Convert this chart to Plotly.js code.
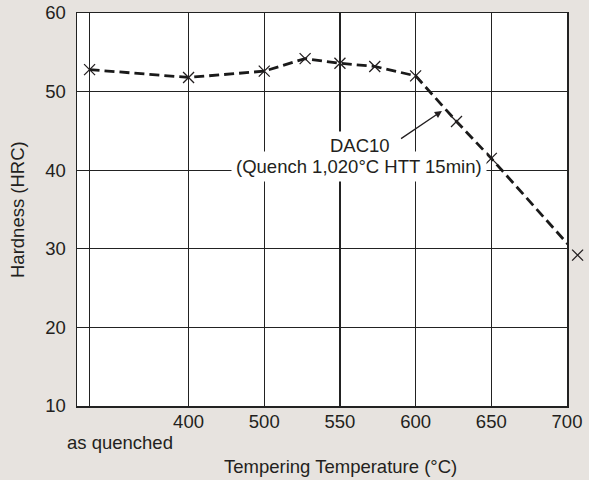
<!DOCTYPE html>
<html>
<head>
<meta charset="utf-8">
<script src="https://cdn.plot.ly/plotly-3.0.1.min.js"></script>
<style>
  html, body { margin: 0; padding: 0; background: #e7e3df; }
  #chart { width: 589px; height: 480px; }
</style>
</head>
<body>
<div id="chart"></div>
<script>
// ---- data ----
const temps = ['as quenched', 400, 500, 527, 550, 573, 600, 627, 650, 707];
const hardness = [52.8, 51.8, 52.6, 54.2, 53.6, 53.2, 52.0, 46.2, 41.5, 29.2];
const tickTemps = [400, 500, 550, 600, 650, 700];
const tickLabels = ['400', '500', '550', '600', '650', '700'];
const yTicks = [10, 20, 30, 40, 50, 60];
const seriesName = 'DAC10';
const seriesNote = '(Quench 1,020°C HTT 15min)';
const xLabelQuenched = 'as quenched';
const xTitle = 'Tempering Temperature (°C)';
const yTitle = 'Hardness (HRC)';

// broken temperature scale of the original: 400->500 takes the same width as 50 degC steps above 500
function axisPos(t) {
  if (t === 'as quenched') return -1.308;
  if (t <= 500) return (t - 400) / 100;
  return 1 + (t - 500) / 50;
}

const ink = '#231f20';
const font = { family: '"Liberation Sans", Arial, Helvetica, sans-serif', size: 18.5, color: ink };

const xMin = -1.474, xMax = 5.0;
const plotW = 510, mainW = 490;            // main frame is 490px, markers may overflow to the right
const xMax2 = xMin + (xMax - xMin) * plotW / mainW;

const xs = temps.map(axisPos);

const lineTrace = {
  x: xs, y: hardness,
  xaxis: 'x', yaxis: 'y',
  mode: 'lines', type: 'scatter',
  line: { color: '#1a1a1a', width: 2.8, dash: '10px,5px' },
  hoverinfo: 'skip', showlegend: false
};
const markerTrace = {
  x: xs, y: hardness,
  xaxis: 'x2', yaxis: 'y2',
  mode: 'markers', type: 'scatter',
  cliponaxis: false,
  marker: { symbol: 'x-thin-open', size: 11, color: ink, line: { color: ink, width: 1.3 } },
  hoverinfo: 'skip', showlegend: false
};

const gridTicks = [axisPos('as quenched')].concat(tickTemps.map(axisPos));
const gridText = [''].concat(tickLabels);
const px = p => (p - 77) / plotW;   // helper: page x -> paper fraction
const py = p => (406 - p) / 393;    // helper: page y -> paper fraction

const layout = {
  width: 589, height: 480,
  paper_bgcolor: '#e7e3df',
  plot_bgcolor: 'rgba(0,0,0,0)',
  margin: { l: 77, r: 589 - 77 - plotW, t: 13, b: 74, pad: 0 },
  font: font,
  showlegend: false,
  xaxis: {
    domain: [0, mainW / plotW],
    range: [xMin, xMax],
    tickmode: 'array',
    tickvals: gridTicks,
    ticktext: gridText,
    showgrid: true, gridcolor: '#222222', gridwidth: 1.3,
    zeroline: false,
    showline: true, mirror: true, linecolor: '#222222', linewidth: 1.5,
    ticks: '', ticklabelstandoff: -2,
    tickfont: font,
    fixedrange: true
  },
  yaxis: {
    range: [10, 60],
    tickmode: 'array',
    tickvals: yTicks,
    ticktext: yTicks.map(String),
    showgrid: true, gridcolor: '#222222', gridwidth: 1.3,
    zeroline: false,
    showline: true, mirror: true, linecolor: '#222222', linewidth: 1.5,
    ticks: 'outside', ticklen: 6, tickcolor: 'rgba(0,0,0,0)',
    tickfont: font,
    fixedrange: true
  },
  xaxis2: { domain: [0, 1], range: [xMin, xMax2], anchor: 'y2', visible: false, fixedrange: true },
  yaxis2: { domain: [0, 1], range: [10, 60], anchor: 'x2', visible: false, fixedrange: true },
  shapes: [
    { type: 'rect', xref: 'paper', yref: 'paper', x0: 0, x1: mainW / plotW, y0: 0, y1: 1,
      fillcolor: '#ffffff', line: { width: 0 }, layer: 'below' }
  ],
  annotations: [
    { xref: 'paper', yref: 'paper', x: px(17.5), y: 0.5, text: yTitle, textangle: -90,
      showarrow: false, xanchor: 'center', yanchor: 'middle', font: font },
    { xref: 'paper', yref: 'paper', x: px(340), y: py(466), text: xTitle,
      showarrow: false, xanchor: 'center', yanchor: 'middle', font: font },
    { xref: 'paper', yref: 'paper', x: px(120), y: py(442), text: xLabelQuenched,
      showarrow: false, xanchor: 'center', yanchor: 'middle', font: font },
    { xref: 'paper', yref: 'paper', x: px(359.3), y: py(166.5), text: seriesNote,
      showarrow: false, xanchor: 'center', yanchor: 'middle', font: font,
      bgcolor: '#ffffff', borderpad: 4 },
    { xref: 'paper', yref: 'paper', x: px(360), y: py(145), text: seriesName,
      showarrow: false, xanchor: 'center', yanchor: 'middle', font: font,
      bgcolor: '#ffffff', borderpad: 3 },
    { xref: 'x', yref: 'y', x: axisPos(617.4), y: 47.53, text: '',
      showarrow: true, ax: -42.4, ay: 28.6, arrowhead: 2, arrowsize: 1.1,
      arrowwidth: 1.3, arrowcolor: ink, standoff: 0, startstandoff: 0 }
  ]
};

Plotly.newPlot('chart', [lineTrace, markerTrace], layout, { displayModeBar: false, staticPlot: true });
</script>
</body>
</html>
